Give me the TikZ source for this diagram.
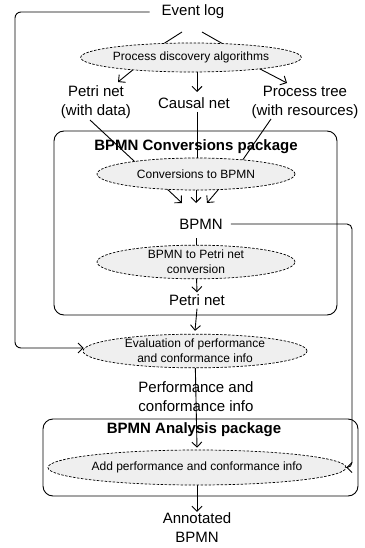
\documentclass[tikz,border=0pt]{standalone}
\usepackage{fontspec}
\setmainfont{Liberation Sans}
\usetikzlibrary{arrows.meta,backgrounds,shapes.geometric}
\definecolor{ellfill}{HTML}{EFEFEF}
\tikzset{
  big/.style={font=\fontsize{15}{19}\selectfont, inner sep=0pt, align=center},
  ttl/.style={font=\fontsize{15}{19}\selectfont\bfseries, inner sep=0pt, align=center},
  proc/.style={ellipse, draw, dash pattern=on 2.5pt off 1.5pt, line width=0.7pt, fill=ellfill,
    inner sep=0pt, align=center, font=\fontsize{12}{15}\selectfont},
  pkg/.style={draw, line width=0.9pt, rounded corners=10pt},
  conn/.style={line width=0.9pt},
  arr/.style={conn, -{Straight Barb[length=5pt,width=10pt]}},
}
\begin{document}
\begin{tikzpicture}[x=1pt,y=-1pt]
\useasboundingbox (0,0) rectangle (364,548);
% packages
\node[pkg, minimum width=283pt, minimum height=184pt] (convbox) at (195.5,223) {};
\node[pkg, minimum width=315pt, minimum height=77pt] (anabox) at (200.5,457.5) {};
\node[ttl] (t1) at (196,147) {BPMN Conversions package};
\node[ttl] (t2) at (194,430) {BPMN Analysis package};
% text nodes
\node[big] (ev) at (193,12) {Event log};
\node[big] (petri) at (96,102) {Petri net\\(with data)};
\node[big] (causal) at (194,103) {Causal net};
\node[big] (ptree) at (305,102) {Process tree\\(with resources)};
\node[big] (bpmn) at (201,224) {BPMN};
\node[big] (pn) at (197,300) {Petri net};
\node[big] (perf) at (196,397) {Performance and\\conformance info};
\node[big] (ann) at (197,528) {Annotated\\BPMN};
% processes
\node[proc, minimum width=217pt, minimum height=29pt] (algo) at (191,57.5) {Process discovery algorithms};
\node[proc, minimum width=198pt, minimum height=32pt] (conv) at (196,174) {Conversions to BPMN};
\node[proc, minimum width=198pt, minimum height=30pt] (b2p) at (196,262) {BPMN to Petri net\\conversion};
\node[proc, minimum width=224pt, minimum height=31pt] (eval) at (195,351) {Evaluation of performance\\and conformance info};
\node[proc, minimum width=296pt, minimum height=35pt] (add) at (197,467.5) {Add performance and conformance info};
% free ends
\coordinate (evL) at (182,32);
\coordinate (evR) at (202,32);
\coordinate (petriIn) at (118,82);
\coordinate (causalIn) at (197,92);
\coordinate (ptreeIn) at (287,83);
\coordinate (petriOut) at (90,120);
\coordinate (causalOut) at (197,112);
\coordinate (ptreeOut) at (271,119);
\coordinate (bIn1) at (182,203);
\coordinate (bIn2) at (196,203);
\coordinate (bIn3) at (207,203);
\coordinate (loop) at (15,100);
\coordinate (rloop) at (352,300);
\begin{scope}[on background layer]
  \draw[conn] (evL) -- ([shift={(-31pt,11.5pt)}]algo.center);
  \draw[conn] (evR) -- ([shift={(33pt,13pt)}]algo.center);
  \draw[arr] ([xshift=-43pt]algo.center) -- (petriIn);
  \draw[arr] ([xshift=6pt]algo.center) -- (causalIn);
  \draw[arr] ([xshift=47pt]algo.center) -- (ptreeIn);
  \draw[conn] (petriOut) -- ([xshift=-48pt]conv.center);
  \draw[conn] (causalOut) -- ([xshift=1pt]conv.center);
  \draw[conn] (ptreeOut) -- ([xshift=37pt]conv.center);
  \draw[arr] ([xshift=-45pt]conv.center) -- (bIn1);
  \draw[arr] (conv.center) -- (bIn2);
  \draw[arr] ([xshift=35.5pt]conv.center) -- (bIn3);
  \draw[conn] ([yshift=-9pt]bpmn.south -| b2p.center) -- (b2p.center);
  \draw[arr] (b2p.center) -- ([yshift=2pt]pn.north);
  \draw[arr] ([yshift=-3pt]pn.south) -- ([yshift=3pt]eval.north);
  \draw[arr] (eval.center) -- ([yshift=2pt]add.north);
  \draw[arr] (add.center) -- ([yshift=1pt]ann.north);
\end{scope}
\draw[arr, rounded corners=6pt] ([xshift=-12pt]ev.west) -| (loop) |- ([shift={(1pt,3pt)}]eval.west);
\draw[arr, rounded corners=5pt] ([xshift=8pt]bpmn.east) -| (rloop) |- (add.east);
\end{tikzpicture}
\end{document}
